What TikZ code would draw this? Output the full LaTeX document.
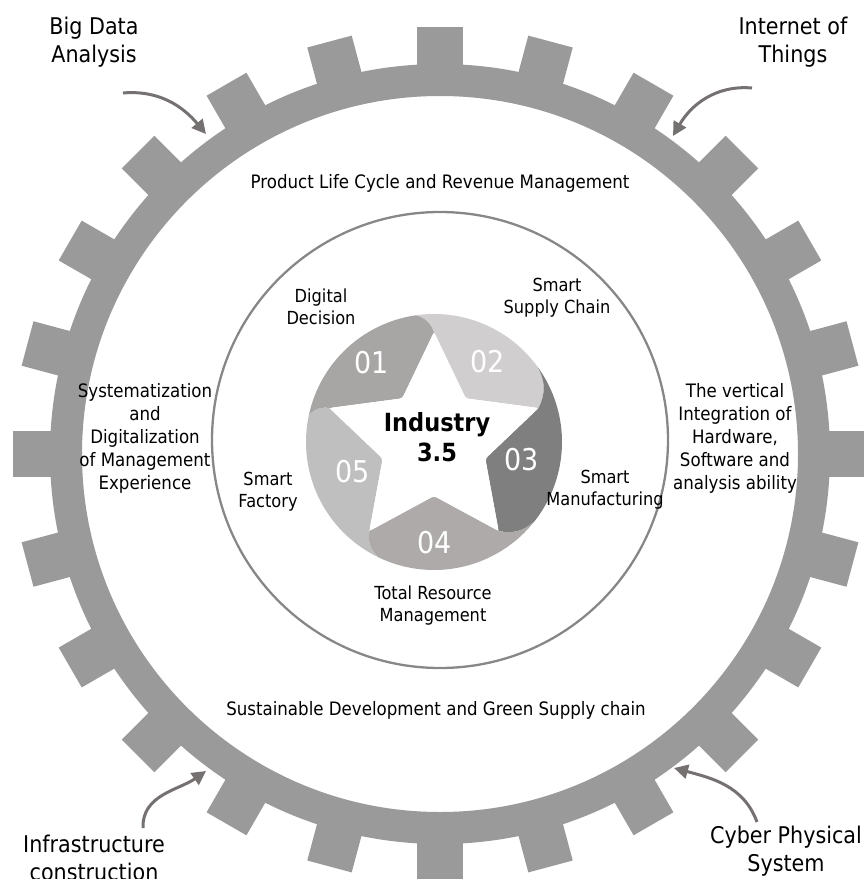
\documentclass[tikz,border=0pt]{standalone}
\usepackage{fontspec}
\setmainfont{DejaVu Sans}[FakeStretch=0.9]
\usetikzlibrary{arrows.meta}
\definecolor{gearc}{RGB}{154,154,154}
\definecolor{ringline}{RGB}{135,135,135}
\definecolor{arrc}{RGB}{118,113,113}
\definecolor{cA}{RGB}{168,165,165}
\definecolor{cB}{RGB}{208,206,206}
\definecolor{cC}{RGB}{127,127,127}
\definecolor{cD}{RGB}{174,170,170}
\definecolor{cE}{RGB}{191,191,191}
\tikzset{
  cornerlbl/.style={font=\fontsize{23}{28}\selectfont, align=center, inner sep=0pt},
  ringlbl/.style={font=\fontsize{18.5}{23}\selectfont, align=center, inner sep=0pt},
  innerlbl/.style={font=\fontsize{18}{22}\selectfont, align=center, inner sep=0pt},
  numlbl/.style={font=\fontsize{30}{30}\selectfont, text=white, inner sep=0pt},
  centerlbl/.style={font=\fontsize{25}{30}\selectfont\bfseries, align=center, inner sep=0pt},
  curvearrow/.style={draw=arrc, line width=3pt, -{Triangle[length=14pt,width=14pt]}},
  swirlout/.style={bend right=28},
  swirlin/.style={bend left=28}
}
\begin{document}
\begin{tikzpicture}[x=1pt,y=1pt]
\useasboundingbox (0,0) rectangle (863,-879);
% gear
\begin{scope}[shift={(440,-454)}]
  \fill[gearc, even odd rule] (0,0) circle (390) (0,0) circle (358);
  \foreach \a in {0,15,...,345}
    \fill[gearc, rotate=\a] (380,-23) rectangle (427,23);
\end{scope}
% inner ring line
\draw[ringline, line width=2.3pt] (440,-440) circle (228);
% central disk segments
\begin{scope}[shift={(434,-442)}]
  \fill[cA] (162:110) to[swirlout] (168:128) arc[start angle=168, end angle=98, radius=128] to[swirlin] (90:110) -- (126:54) -- cycle;
  \fill[cB] (90:110) to[swirlout] (98:128) arc[start angle=98, end angle=36, radius=128] to[swirlin] (18:110) -- (54:54) -- cycle;
  \fill[cC] (18:110) to[swirlout] (36:128) arc[start angle=36, end angle=-38, radius=128] to[swirlin] (-54:110) -- (-18:54) -- cycle;
  \fill[cD] (-54:110) to[swirlout] (-38:128) arc[start angle=-38, end angle=-116, radius=128] to[swirlin] (-126:110) -- (-90:54) -- cycle;
  \fill[cE] (-126:110) to[swirlout] (-116:128) arc[start angle=-116, end angle=-192, radius=128] to[swirlin] (162:110) -- (198:54) -- cycle;
  \fill[white, rounded corners=3pt] (90:110) -- (54:54) -- (18:110) -- (-18:54) -- (-54:110) -- (-90:54) -- (-126:110) -- (-162:54) -- (162:110) -- (126:54) -- cycle;
\end{scope}
% numbers
\node[numlbl] (n1) at (372,-363) {01};
\node[numlbl] (n2) at (488,-362) {02};
\node[numlbl] (n3) at (522,-460) {03};
\node[numlbl] (n4) at (435,-543) {04};
\node[numlbl] (n5) at (353,-472) {05};
\node[centerlbl] (ind) at (437,-437) {Industry\\3.5};
% inner labels
\node[innerlbl] (dd) at (321,-307) {Digital\\Decision};
\node[innerlbl] (ssc) at (557,-298) {Smart\\Supply Chain};
\node[innerlbl] (sm) at (605,-490) {Smart\\Manufacturing};
\node[innerlbl] (sf) at (268,-492) {Smart\\Factory};
\node[innerlbl] (trm) at (433,-606) {Total Resource\\Management};
% ring labels
\node[ringlbl] (plc) at (440,-183) {Product Life Cycle and Revenue Management};
\node[ringlbl] (sdg) at (436,-710) {Sustainable Development and Green Supply chain};
\node[ringlbl] (sys) at (145,-438) {Systematization\\and\\Digitalization\\of Management\\Experience};
\node[ringlbl] (vert) at (735,-438) {The vertical\\Integration of\\Hardware,\\Software and\\analysis ability};
% corner labels
\node[cornerlbl] (bda) at (94,-42) {Big Data\\Analysis};
\node[cornerlbl] (iot) at (793,-42) {Internet of\\Things};
\node[cornerlbl] (inf) at (94,-858) {Infrastructure\\construction};
\node[cornerlbl] (cps) at (786,-851) {Cyber Physical\\System};
% arrows
\coordinate (bdaS) at (123,-93);
\coordinate (bdaE) at (206,-134);
\coordinate (iotS) at (752,-88);
\coordinate (iotE) at (673,-136);
\coordinate (infS) at (143,-828);
\coordinate (infE) at (206,-771);
\coordinate (cpsS) at (757,-822);
\coordinate (cpsE) at (674,-768);
\draw[curvearrow] (bdaS) to[out=5, in=130] (bdaE);
\draw[curvearrow] (iotS) to[out=175, in=60] (iotE);
\draw[curvearrow] (infS) to[out=92, in=215] (infE);
\draw[curvearrow] (cpsS) to[out=110, in=-15] (cpsE);
\end{tikzpicture}
\end{document}
